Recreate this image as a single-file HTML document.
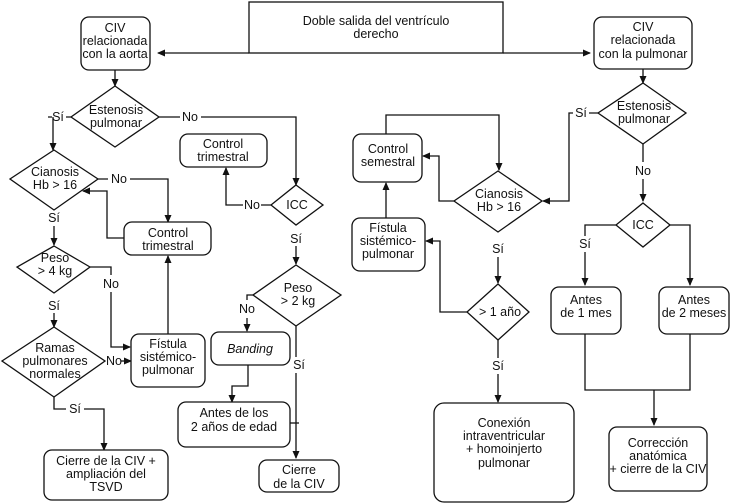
<!DOCTYPE html>
<html><head><meta charset="utf-8"><style>
html,body{margin:0;padding:0;background:#fff;}
svg{display:block;}
text{font-family:"Liberation Sans Narrow","Liberation Sans",sans-serif;font-size:12.5px;fill:#111;text-anchor:middle;}
.b{fill:#fff;stroke:#111;stroke-width:1.3;}
.l{fill:none;stroke:#111;stroke-width:1.3;}
</style></head><body>
<svg width="730" height="503" viewBox="0 0 730 503" xmlns="http://www.w3.org/2000/svg">
<defs><marker id="a" markerWidth="8" markerHeight="8" refX="7" refY="4" orient="auto" markerUnits="userSpaceOnUse"><path d="M0,0.5 L8,4 L0,7.5 z" fill="#111"/></marker></defs>

<!-- top -->
<rect class="b" x="249" y="2" width="254" height="51"/>
<text x="376" y="25">Doble salida del ventrículo</text>
<text x="376" y="38">derecho</text>
<path class="l" d="M249,53 H158" marker-end="url(#a)"/>
<path class="l" d="M503,53 H590" marker-end="url(#a)"/>

<!-- left column -->
<rect class="b" x="81" y="17" width="69" height="53" rx="8"/>
<text x="115" y="32">CIV</text><text x="115" y="45">relacionada</text><text x="115" y="58">con la aorta</text>
<path class="l" d="M115,70 V86" marker-end="url(#a)"/>
<polygon class="b" points="115,86 159,117 115,147 71,117"/>
<text x="116" y="114">Estenosis</text><text x="116" y="127">pulmonar</text>
<path class="l" d="M71,117 H66 M52,117 H48 M53,117 V150" marker-end="url(#a)"/>
<text x="58" y="121">Sí</text>
<path class="l" d="M159,117 H180 M201,117 H296 V185" marker-end="url(#a)"/>
<text x="190" y="121">No</text>

<polygon class="b" points="54,150 98,179 54,210 10,179"/>
<text x="55" y="176">Cianosis</text><text x="55" y="189">Hb &gt; 16</text>
<path class="l" d="M98,179 H108 M130,179 H168 V222" marker-end="url(#a)"/>
<text x="119" y="183">No</text>
<rect class="b" x="124" y="222" width="87" height="33" rx="8"/>
<text x="168" y="237">Control</text><text x="168" y="250">trimestral</text>
<path class="l" d="M124,238 H107 V191 H83" marker-end="url(#a)"/>
<text x="54" y="222">Sí</text>
<path class="l" d="M54,226 V245" marker-end="url(#a)"/>

<polygon class="b" points="54,246 90,267 54,293 17,267"/>
<text x="55" y="262">Peso</text><text x="55" y="275">&gt; 4 kg</text>
<path class="l" d="M90,267 H111 V275 M111,292 V347 H130" marker-end="url(#a)"/>
<text x="111" y="288">No</text>
<text x="54" y="310">Sí</text>
<path class="l" d="M54,313 V327" marker-end="url(#a)"/>

<polygon class="b" points="54,327 105,361 54,397 2,361"/>
<text x="55" y="352">Ramas</text><text x="55" y="365">pulmonares</text><text x="55" y="378">normales</text>
<text x="114" y="365">No</text>
<path class="l" d="M121,361 H131" marker-end="url(#a)"/>
<rect class="b" x="131" y="334" width="74" height="53" rx="8"/>
<text x="168" y="348">Fístula</text><text x="168" y="361">sistémico-</text><text x="168" y="374">pulmonar</text>
<path class="l" d="M168,334 V256" marker-end="url(#a)"/>
<path class="l" d="M54,397 V409 H66 M84,409 H104 V450" marker-end="url(#a)"/>
<text x="75" y="413">Sí</text>
<rect class="b" x="44" y="450" width="124" height="50" rx="8"/>
<text x="106" y="465">Cierre de la CIV +</text><text x="106" y="478">ampliación del</text><text x="106" y="491">TSVD</text>

<!-- middle left -->
<rect class="b" x="180" y="134" width="87" height="33" rx="8"/>
<text x="223" y="148">Control</text><text x="223" y="161">trimestral</text>
<polygon class="b" points="296,185 323,205 296,225 271,205"/>
<text x="297" y="209">ICC</text>
<path class="l" d="M271,205 H261 M243,205 H226 V168" marker-end="url(#a)"/>
<text x="252" y="209">No</text>
<text x="296" y="243">Sí</text>
<path class="l" d="M296,246 V264" marker-end="url(#a)"/>
<polygon class="b" points="296,265 341,295 296,326 253,295"/>
<text x="298" y="292">Peso</text><text x="298" y="305">&gt; 2 kg</text>
<path class="l" d="M253,295 H247 V300 M247,318 V331" marker-end="url(#a)"/>
<text x="247" y="313">No</text>
<rect class="b" x="211" y="332" width="79" height="33" rx="8"/>
<text x="250" y="353" style="font-style:italic">Banding</text>
<path class="l" d="M248,365 V386 H232 V402" marker-end="url(#a)"/>
<rect class="b" x="178" y="402" width="112" height="45" rx="8"/>
<text x="234" y="417">Antes de los</text><text x="234" y="431">2 años de edad</text>
<path class="l" d="M296,326 V357 M296,373 V458" marker-end="url(#a)"/>
<path class="l" d="M290,423 H299"/>
<text x="299" y="369">Sí</text>
<rect class="b" x="259" y="460" width="80" height="32" rx="8"/>
<text x="299" y="474">Cierre</text><text x="299" y="488">de la CIV</text>

<!-- right -->
<rect class="b" x="594" y="17" width="98" height="52" rx="8"/>
<text x="643" y="31">CIV</text><text x="643" y="44">relacionada</text><text x="643" y="58">con la pulmonar</text>
<path class="l" d="M643,69 V83" marker-end="url(#a)"/>
<polygon class="b" points="643,83 686,113 643,144 598,113"/>
<text x="644" y="110">Estenosis</text><text x="644" y="123">pulmonar</text>
<path class="l" d="M598,113 H589 M573,113 H569 V201 H543" marker-end="url(#a)"/>
<text x="581" y="117">Sí</text>
<path class="l" d="M643,144 V162 M643,179 V201" marker-end="url(#a)"/>
<text x="643" y="175">No</text>
<polygon class="b" points="643,203 670,225 643,247 616,225"/>
<text x="643" y="229">ICC</text>
<path class="l" d="M616,225 H585 V236 M585,252 V285" marker-end="url(#a)"/>
<text x="585" y="248">Sí</text>
<path class="l" d="M670,225 H690 V285" marker-end="url(#a)"/>
<rect class="b" x="551" y="287" width="70" height="47" rx="8"/>
<text x="586" y="304">Antes</text><text x="586" y="317">de 1 mes</text>
<rect class="b" x="659" y="287" width="70" height="47" rx="8"/>
<text x="694" y="304">Antes</text><text x="694" y="317">de 2 meses</text>
<path class="l" d="M585,334 V390 H690 V334 M654,390 V425" marker-end="url(#a)"/>
<rect class="b" x="609" y="427" width="98" height="64" rx="8"/>
<text x="658" y="447">Corrección</text><text x="658" y="460">anatómica</text><text x="658" y="473">+ cierre de la CIV</text>

<!-- right middle -->
<rect class="b" x="353" y="134" width="69" height="48" rx="8"/>
<text x="388" y="153">Control</text><text x="388" y="166">semestral</text>
<path class="l" d="M386,134 V115 H499 V170" marker-end="url(#a)"/>
<polygon class="b" points="498,171 542,201 498,232 454,201"/>
<text x="499" y="198">Cianosis</text><text x="499" y="211">Hb &gt; 16</text>
<path class="l" d="M454,201 H439 V156 H423" marker-end="url(#a)"/>
<rect class="b" x="352" y="218" width="73" height="53" rx="8"/>
<text x="388" y="232">Fístula</text><text x="388" y="245">sistémico-</text><text x="388" y="258">pulmonar</text>
<path class="l" d="M386,218 V183" marker-end="url(#a)"/>
<text x="498" y="253">Sí</text>
<path class="l" d="M498,257 V283" marker-end="url(#a)"/>
<polygon class="b" points="498,284 529,312 498,340 467,312"/>
<text x="500" y="316">&gt; 1 año</text>
<path class="l" d="M467,312 H440 V241 H426" marker-end="url(#a)"/>
<path class="l" d="M498,340 V358 M498,374 V402" marker-end="url(#a)"/>
<text x="498" y="370">Sí</text>
<rect class="b" x="434" y="403" width="140" height="99" rx="10"/>
<text x="504" y="427">Conexión</text><text x="504" y="440">intraventricular</text><text x="504" y="453">+ homoinjerto</text><text x="504" y="467">pulmonar</text>
</svg>
</body></html>
